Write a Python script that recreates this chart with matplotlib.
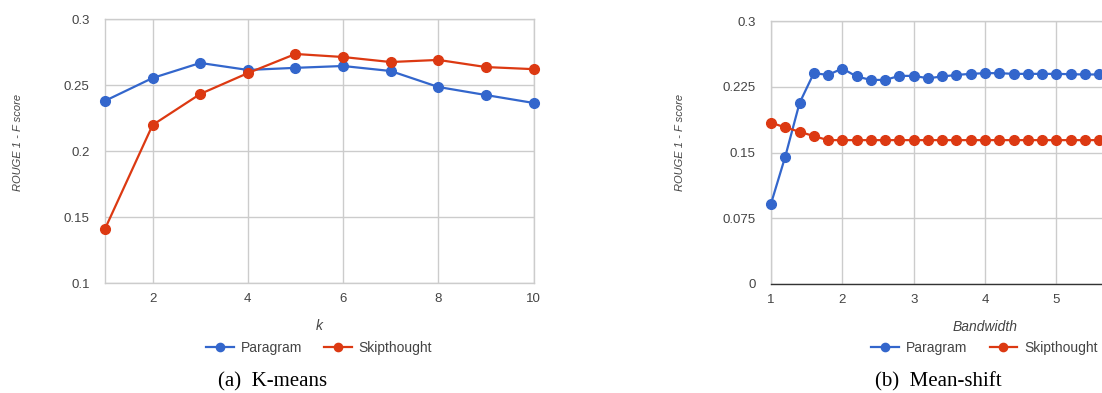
import matplotlib.pyplot as plt

plt.rcParams['font.family'] = ['Liberation Sans', 'DejaVu Sans']

# K-means
k_vals = [1, 2, 3, 4, 5, 6, 7, 8, 9, 10]
km_paragram = [0.238, 0.2553, 0.2667, 0.2614, 0.263, 0.2644, 0.2606, 0.2485, 0.2424, 0.2364]
km_skip = [0.141, 0.2197, 0.2432, 0.259, 0.2735, 0.2712, 0.2674, 0.269, 0.2636, 0.262]
km_yticks = [0.1, 0.15, 0.2, 0.25, 0.3]
km_yticklabels = ['0.1', '0.15', '0.2', '0.25', '0.3']

# Mean-shift
bw_vals = [1.0, 1.2, 1.4, 1.6, 1.8, 2.0, 2.2, 2.4, 2.6, 2.8, 3.0, 3.2,
           3.4, 3.6, 3.8, 4.0, 4.2, 4.4, 4.6, 4.8, 5.0, 5.2, 5.4, 5.6]
ms_paragram = [0.0916, 0.1454, 0.2064, 0.2405, 0.2385, 0.2458, 0.2367, 0.2328,
               0.2328, 0.2374, 0.2374, 0.2347, 0.2367, 0.2385, 0.2397, 0.2405,
               0.2405, 0.2397, 0.2397, 0.2397, 0.2397, 0.2393, 0.239, 0.239]
ms_skip = [0.184, 0.1786, 0.1737, 0.1687] + [0.1641] * 20
ms_yticks = [0, 0.075, 0.15, 0.225, 0.3]
ms_yticklabels = ['0', '0.075', '0.15', '0.225', '0.3']

BLUE = '#3366cc'
RED = '#dc3912'
GRID = '#cccccc'
TXT = '#444444'

fig = plt.figure(figsize=(11.02, 3.93), dpi=100)
W, H = 1102, 393


def box(x0, x1, y_top, y_bot):
    return [x0 / W, 1 - y_bot / H, (x1 - x0) / W, (y_bot - y_top) / H]


def style(ax):
    for s in ax.spines.values():
        s.set_color(GRID)
        s.set_linewidth(1)
    ax.grid(True, color=GRID, linewidth=1)
    ax.set_axisbelow(True)
    ax.tick_params(length=0, labelsize=9.5, colors=TXT)
    ax.tick_params(axis='y', pad=11)
    ax.tick_params(axis='x', pad=7)


def lines(ax, x, a, b):
    ax.plot(x, a, '-o', color=BLUE, lw=1.6, ms=7, clip_on=False, zorder=3, label='Paragram')
    ax.plot(x, b, '-o', color=RED, lw=1.6, ms=7, clip_on=False, zorder=3, label='Skipthought')


ax1 = fig.add_axes(box(105, 533.5, 19, 283))
lines(ax1, k_vals, km_paragram, km_skip)
ax1.set_xlim(1, 10)
ax1.set_ylim(0.1, 0.3)
ax1.set_xticks([2, 4, 6, 8, 10])
ax1.set_yticks(km_yticks, km_yticklabels)
style(ax1)
ax1.set_xlabel('k', style='italic', fontsize=10, color=TXT, labelpad=10)

# right panel is wider than the page, so it runs off the right edge
ax2 = fig.add_axes(box(771, 1199, 21, 284))
lines(ax2, bw_vals, ms_paragram, ms_skip)
ax2.set_xlim(1, 7)
ax2.set_ylim(0, 0.3)
ax2.set_xticks([1, 2, 3, 4, 5])
ax2.set_yticks(ms_yticks, ms_yticklabels)
style(ax2)
ax2.spines['bottom'].set_color('#333333')
ax2.set_xlabel('Bandwidth', style='italic', fontsize=10, color=TXT, labelpad=10)

for xc in (18, 680):
    fig.text(xc / W, 1 - 142 / H, 'ROUGE 1 - F score', rotation=90, style='italic',
             fontsize=8, color=TXT, ha='center', va='center')

for ax, xc in ((ax1, 319), (ax2, 984.5)):
    ax.legend(loc='center', bbox_to_anchor=(xc / W, 1 - 348 / H), bbox_transform=fig.transFigure,
              ncol=2, frameon=False, fontsize=10, handlelength=2.0, handletextpad=0.5,
              columnspacing=1.6, markerscale=0.85, labelcolor=TXT)

fig.text(273 / W, 1 - 382 / H, '(a)  K-means', family='Liberation Serif', fontsize=15,
         ha='center', va='center')
fig.text(938.5 / W, 1 - 382 / H, '(b)  Mean-shift', family='Liberation Serif', fontsize=15,
         ha='center', va='center')

fig.savefig('out.png', dpi=100)
